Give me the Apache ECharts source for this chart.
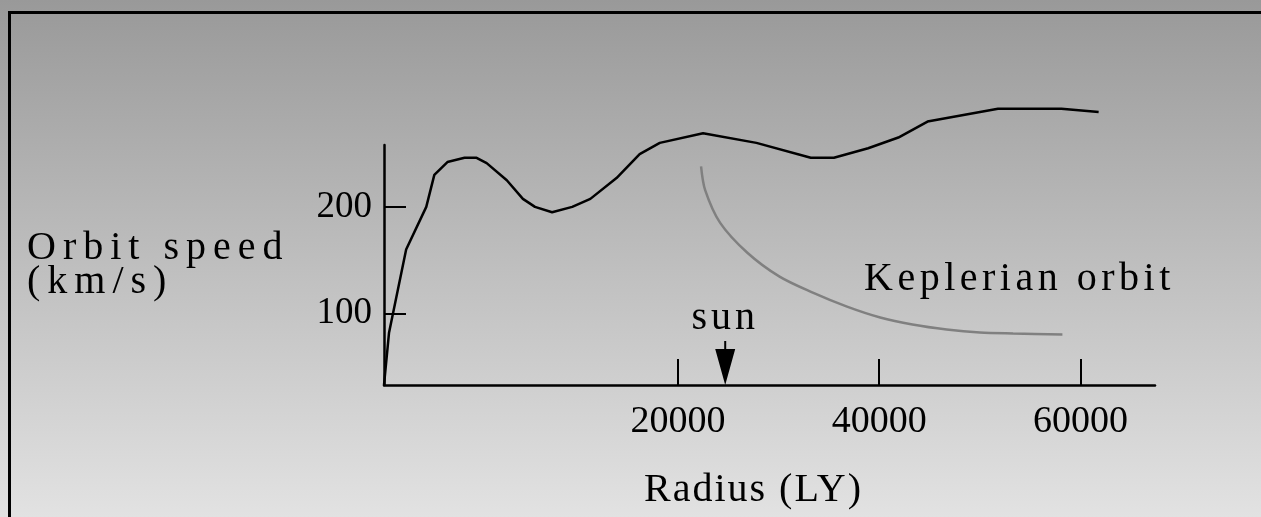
<!DOCTYPE html>
<html>
<head>
<meta charset="utf-8">
<script src="https://cdn.jsdelivr.net/npm/echarts@6/dist/echarts.min.js"></script>
<style>
html,body{margin:0;padding:0;width:1261px;height:517px;overflow:hidden;}
#chart{width:1261px;height:517px;}
</style>
</head>
<body>
<div id="chart"></div>
<script>
// ---- data ----
const rotationCurve = [
  [-9200, 33], [-8700, 82], [-7000, 160], [-5000, 200], [-4200, 230], [-2900, 242],
  [-1200, 246], [0, 246], [1000, 241], [3000, 225], [4600, 207.5], [5800, 200],
  [7500, 195], [9500, 200], [11300, 207.5], [13900, 227], [16200, 249.5], [18200, 260],
  [22500, 269], [27800, 260], [33200, 246], [35500, 246], [38900, 255], [41900, 265],
  [44800, 280], [51800, 292], [58100, 292], [61800, 289]
];
const keplerCurve = [
  [22300, 238], [22700, 216], [24200, 185], [26900, 157], [30100, 134.6], [33400, 119.6],
  [36800, 106.5], [40100, 96.3], [43300, 89.7], [46700, 85], [50000, 82.2], [53300, 81.3], [58200, 80.4]
];
const xTickValues = [20000, 40000, 60000];
const yTickValues = [100, 200];
const sunRadius = [24700];
const xRange = [-9200, 67400];
const yRange = [33, 258];

// letter spacing for the spaced labels
(function(){
  const P = CanvasRenderingContext2D.prototype;
  const SP = {'Orbit speed':7,'(km/s)':7,'Radius (LY)':2,'Keplerian orbit':4.5,'sun':4};
  const f = P.fillText, m = P.measureText;
  P.fillText = function(t){ try{ this.letterSpacing = (SP[t]||0)+'px'; }catch(e){} return f.apply(this, arguments); };
  P.measureText = function(t){ try{ this.letterSpacing = (SP[t]||0)+'px'; }catch(e){} return m.apply(this, arguments); };
})();

const FONT = 'Liberation Serif';
const chart = echarts.init(document.getElementById('chart'), null, {renderer:'canvas'});
chart.setOption({
  animation: false,
  backgroundColor: {type:'linear', x:0, y:0, x2:0, y2:1,
    colorStops:[{offset:0,color:'#999999'},{offset:1,color:'#e2e2e2'}]},
  textStyle: {fontFamily: FONT},
  grid: {left: 384, right: 106, top: 145, bottom: 132, containLabel: false},
  xAxis: {
    type: 'value', min: xRange[0], max: xRange[1],
    axisLine: {show: true, onZero: false, lineStyle: {color: '#000', width: 2.5}},
    axisTick: {show: true, inside: true, length: 26, customValues: xTickValues, lineStyle: {color: '#000', width: 2}},
    axisLabel: {show: true, customValues: xTickValues, formatter: v => String(v), color: '#000', fontSize: 38, fontFamily: FONT, margin: 18},
    splitLine: {show: false},
    name: 'Radius (LY)', nameLocation: 'middle', nameGap: 85,
    nameTextStyle: {color: '#000', fontSize: 40, fontFamily: FONT, padding: [0, 32, 0, 0]}
  },
  yAxis: {
    type: 'value', min: yRange[0], max: yRange[1],
    axisLine: {show: true, onZero: false, lineStyle: {color: '#000', width: 2.5}},
    axisTick: {show: true, inside: true, length: 22, customValues: yTickValues, lineStyle: {color: '#000', width: 2}},
    axisLabel: {show: true, customValues: yTickValues, formatter: v => String(v), color: '#000', fontSize: 37, fontFamily: FONT, margin: 12, padding: [14, 0, 0, 0]},
    splitLine: {show: false},
    name: 'Orbit speed\n(km/s)', nameLocation: 'middle', nameRotate: 0, nameGap: 357,
    nameTextStyle: {color: '#000', fontSize: 40, fontFamily: FONT, align: 'left', lineHeight: 34, padding: [0, 0, 6, 0]}
  },
  graphic: [
    {type: 'rect', shape: {x: 9.5, y: 12.5, width: 2000, height: 2000},
     style: {fill: 'none', stroke: '#000', lineWidth: 3}, silent: true, z: 100},
    {type: 'text', x: 864, y: 279,
     style: {text: 'Keplerian orbit', fill: '#000', font: '40px "Liberation Serif"', textVerticalAlign: 'middle', textAlign: 'left'}}
  ],
  series: [
    {type: 'line', data: rotationCurve, showSymbol: false, symbol: 'none', clip: false,
     lineStyle: {color: '#000', width: 2.5}, z: 3},
    {type: 'line', data: keplerCurve, showSymbol: false, symbol: 'none', smooth: 0.3, clip: false,
     lineStyle: {color: '#808080', width: 2.5}, z: 2},
    {type: 'scatter', data: sunRadius.map(r => [r, yRange[0]]), clip: false,
     symbol: 'path://M9,0 L11,0 L11,8 L20,8 L10,44 L0,8 L9,8 Z',
     symbolSize: [20, 44], symbolOffset: [0, -22], symbolKeepAspect: false,
     itemStyle: {color: '#000', opacity: 1},
     label: {show: true, formatter: 'sun', position: 'top', distance: 3, color: '#000', opacity: 1, fontSize: 40, fontFamily: FONT},
     z: 4}
  ]
});
</script>
</body>
</html>
